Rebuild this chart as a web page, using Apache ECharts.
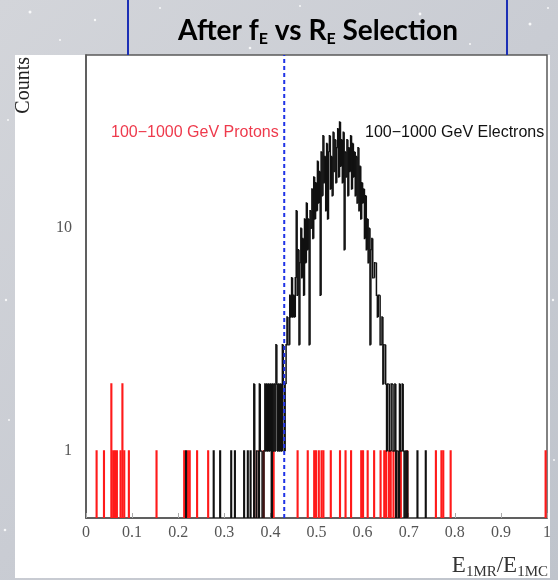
<!DOCTYPE html>
<html><head><meta charset="utf-8">
<script src="https://cdn.jsdelivr.net/npm/echarts@6/dist/echarts.min.js"></script>
<style>html,body{margin:0;padding:0;background:#c9ccd2}#c{width:558px;height:580px}</style>
</head><body><div id="c"></div>
<script>
// ---- data ----
const BIN = 0.002;                 // histogram bin width
const X_MIN = 0, X_MAX = 1, X_STEP = 0.1;
const Y_MIN = 0.5, Y_MAX = 60;
const xTickLabels = ['0','0.1','0.2','0.3','0.4','0.5','0.6','0.7','0.8','0.9','1'];
const yTickLabels = ['1','10'];
const cutValue = 0.43;

// proton events (bin position, counts)
const protonX = [0.023,0.039,0.054,0.058,0.062,0.066,0.075,0.079,0.083,0.092,0.152,0.213,0.220,0.224,0.241,0.265,
  0.364,0.374,0.385,0.406,0.458,0.480,0.494,0.498,0.505,0.510,0.515,0.530,0.551,0.563,0.575,0.596,0.601,0.610,
  0.625,0.638,0.646,0.651,0.657,0.661,0.666,0.672,0.683,0.697,0.759,0.770,0.775,0.791,0.997];
const protonCounts = [1,1,2,1,1,1,1,2,1,1,1,1,1,1,1,1,
  1,1,1,1,1,1,1,1,1,1,1,1,1,1,1,1,1,1,
  1,1,1,1,1,1,1,1,1,1,1,1,1,1,1];

// isolated electron events outside the main peak
const electronSparseX = [0.216,0.276,0.290,0.314,0.322,0.342,0.350,0.356,0.718,0.736];
const electronSparseCounts = [1,1,1,1,1,1,1,1,1,1];

// electron main histogram, contiguous bins from electronStart
const electronStart = 0.360;
const electronCounts = [
  0,0,2,0,0,1,1,0,2,1,1,0,0,1,2,1,          // 0.360 - 0.390
  2,1,2,1,2,0,2,1,2,1,3,2,1,2,1,2,          // 0.392 - 0.422
  1,3,2,1,2,3,4,3,3,5,4,6,4,5,4,6,          // 0.424 - 0.454
  12,5,8,3,7,10,6,9,5,11,7,13,8,11,3,12,    // 0.456 - 0.486
  10,15,9,17,11,16,12,20,13,18,5,22,14,26,16,21,   // 0.488 - 0.518
  12,24,11,22,26,15,21,14,27,18,25,16,23,28,17,30, // 0.520 - 0.550
  19,25,16,27,8,22,17,25,14,23,18,26,15,24,17,22,  // 0.552 - 0.582
  14,21,13,23,12,19,11,16,13,15,9,14,8,11,7,10,    // 0.584 - 0.614
  3,8,9,6,6,7,7,5,4,5,5,3,3,4,2,3,          // 0.616 - 0.646
  3,2,1,2,2,1,1,2,2,1,1,2,0,1,1,0,          // 0.648 - 0.678
  2,1,1,2,1,0,1,0,1,0                       // 0.680 - 0.698
];

// ---- build series data ----
const electronData = electronCounts.map((c, i) => [electronStart + i * BIN, i > 0 ? electronCounts[i - 1] : 0, c, i === electronCounts.length - 1 ? 1 : 0]);
const binOf = (x) => Math.floor(x / BIN + 1e-9) * BIN;
const protonData = protonX.map((x, i) => [binOf(x), protonCounts[i]]);
const electronSparseData = electronSparseX.map((x, i) => [binOf(x), electronSparseCounts[i]]);

const chart = echarts.init(document.getElementById('c'), null, {renderer: 'canvas'});

function clampY(v) { return Math.max(v, Y_MIN); }

function spikeRenderer(color, width) {
  return function (params, api) {
    const left = api.value(0), c = api.value(1);
    const pts = [
      api.coord([left, Y_MIN]), api.coord([left, clampY(c)]),
      api.coord([left + BIN, clampY(c)]), api.coord([left + BIN, Y_MIN])
    ];
    return {type: 'polyline', shape: {points: pts}, style: {stroke: color, lineWidth: width, fill: null}};
  };
}

// a few background stars (decoration of the slide backdrop)
const stars = [[30,12,1.5],[60,40,1],[95,20,1.2],[160,8,1],[250,48,1.3],[300,6,1],[420,14,1.4],[470,44,1],[530,24,1.5],[548,8,1],[8,120,1],[6,300,1.2],[9,420,1],[553,300,1.2],[554,460,1],[5,530,1.3]];

const graphics = [
  {type: 'rect', z: -10, silent: true, shape: {x: 15, y: 55, width: 535, height: 523}, style: {fill: '#ffffff'}},
  {type: 'line', silent: true, shape: {x1: 128, y1: 0, x2: 128, y2: 55}, style: {stroke: '#1c2fb5', lineWidth: 2}},
  {type: 'line', silent: true, shape: {x1: 507, y1: 0, x2: 507, y2: 55}, style: {stroke: '#1c2fb5', lineWidth: 2}},
  {type: 'text', silent: true, x: 318, y: 31, style: {
    text: '{t|After f}{s|E}{t| vs R}{s|E}{t| Selection}', align: 'center', verticalAlign: 'middle',
    rich: {
      t: {fontFamily: 'Lato', fontWeight: 'bold', fontSize: 28, lineHeight: 32, fill: '#000'},
      s: {fontFamily: 'Lato', fontWeight: 'bold', fontSize: 16, lineHeight: 8, verticalAlign: 'bottom', fill: '#000'}
    }}},
  {type: 'text', silent: true, x: 24, y: 57, rotation: Math.PI / 2, style: {
    text: 'Counts', align: 'right', verticalAlign: 'middle', fontFamily: 'Liberation Serif', fontSize: 20, fill: '#222'}},
  {type: 'text', silent: true, x: 548, y: 566, style: {
    text: '{t|E}{s|1MR}{t|/E}{s|1MC}', align: 'right', verticalAlign: 'middle',
    rich: {
      t: {fontFamily: 'Liberation Serif', fontSize: 23, lineHeight: 28, fill: '#333'},
      s: {fontFamily: 'Liberation Serif', fontSize: 15, lineHeight: 10, verticalAlign: 'bottom', fill: '#333'}
    }}},
  {type: 'text', silent: true, x: 111, y: 133, style: {
    text: '100\u22121000 GeV Protons', align: 'left', verticalAlign: 'middle', fontFamily: 'Liberation Sans', fontSize: 16, fill: '#ee3a4c'}},
  {type: 'text', silent: true, x: 365, y: 133, style: {
    text: '100\u22121000 GeV Electrons', align: 'left', verticalAlign: 'middle', fontFamily: 'Liberation Sans', fontSize: 16, fill: '#111'}}
];
stars.forEach(s => graphics.push({type: 'circle', silent: true, z: -20, shape: {cx: s[0], cy: s[1], r: s[2]}, style: {fill: 'rgba(255,255,255,0.85)'}}));

const option = {
  backgroundColor: {
    type: 'linear', x: 0, y: 0, x2: 1, y2: 1,
    colorStops: [{offset: 0, color: '#d3d5da'}, {offset: 0.5, color: '#c9ccd3'}, {offset: 1, color: '#bfc4cc'}]
  },
  animation: false,
  grid: {left: 86, top: 55, right: 11, bottom: 62, show: true, borderColor: '#5a5a5a', borderWidth: 1.5, backgroundColor: '#ffffff'},
  xAxis: {
    type: 'value', min: X_MIN, max: X_MAX, interval: X_STEP,
    axisLine: {show: true, lineStyle: {color: '#555', width: 1.5}},
    axisTick: {show: true, inside: true, length: 5, lineStyle: {color: '#aaa'}},
    splitLine: {show: false},
    axisLabel: {
      color: '#555', fontFamily: 'Liberation Serif', fontSize: 16, margin: 7,
      formatter: (v) => xTickLabels[Math.round(v / X_STEP)] || ''
    }
  },
  yAxis: {
    type: 'log', logBase: 10, min: Y_MIN, max: Y_MAX,
    axisLine: {show: true, lineStyle: {color: '#555', width: 1.5}},
    axisTick: {show: false},
    splitLine: {show: false},
    axisLabel: {
      color: '#555', fontFamily: 'Liberation Serif', fontSize: 16, margin: 14,
      showMinLabel: false, showMaxLabel: false,
      formatter: (v) => { const k = Math.round(Math.log10(v)); return (Math.abs(Math.log10(v) - k) < 1e-6 && yTickLabels[k] !== undefined) ? yTickLabels[k] : ''; }
    }
  },
  graphic: graphics,
  series: [
    {
      name: 'Protons', type: 'custom', clip: true,
      encode: {x: 0, y: 1},
      data: protonData,
      renderItem: spikeRenderer('#ff1a1a', 1.2)
    },
    {
      name: 'Electrons (isolated)', type: 'custom', clip: true,
      encode: {x: 0, y: 1},
      data: electronSparseData,
      renderItem: spikeRenderer('#111', 1.2)
    },
    {
      name: 'Electrons', type: 'custom', clip: true,
      encode: {x: 0, y: 2},
      data: electronData,
      renderItem: function (params, api) {
        const left = api.value(0), prev = api.value(1), cur = api.value(2), last = api.value(3);
        if (prev === 0 && cur === 0) return null;
        const pts = [
          api.coord([left, clampY(prev)]), api.coord([left, clampY(cur)]),
          api.coord([left + BIN, clampY(cur)])
        ];
        if (last) pts.push(api.coord([left + BIN, Y_MIN]));
        return {type: 'polyline', shape: {points: pts}, style: {stroke: '#111', lineWidth: 1.5, fill: null}};
      }
    },
    {
      name: 'Cut', type: 'line', symbol: 'none', silent: true,
      data: [[cutValue, Y_MIN], [cutValue, Y_MAX]],
      lineStyle: {color: '#1f33e6', width: 2, type: [4, 3]}
    }
  ]
};
chart.setOption(option);
</script></body></html>
